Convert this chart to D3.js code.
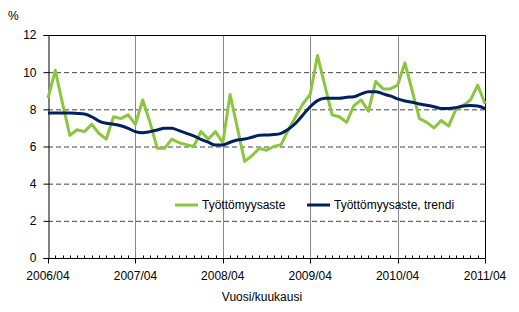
<!DOCTYPE html>
<html><head><meta charset="utf-8">
<script src="https://cdn.jsdelivr.net/npm/d3@7"></script>
<style>body{margin:0;background:#fff}svg{display:block;font-family:"Liberation Sans",Arial,sans-serif}</style>
</head><body>
<svg id="c" width="519" height="312"></svg>
<script>
const xTickLabels = ["2006/04","2007/04","2008/04","2009/04","2010/04","2011/04"];
const yTicks = [0,2,4,6,8,10,12];
const seriesNames = ["Työttömyysaste","Työttömyysaste, trendi"];
const rate = [8.6,10.1,8.3,6.6,6.9,6.8,7.2,6.7,6.4,7.6,7.5,7.7,7.2,8.5,7.3,5.9,5.9,6.4,6.2,6.1,6.0,
  6.8,6.4,6.8,6.2,8.8,7.0,5.2,5.5,5.9,5.8,6.0,6.1,6.9,7.6,8.3,8.8,10.9,9.3,7.7,7.6,7.3,
  8.2,8.5,7.9,9.5,9.1,9.1,9.3,10.5,9.0,7.5,7.3,7.0,7.4,7.1,8.0,8.2,8.5,9.3,8.3];
const trend = [7.8,7.8,7.8,7.8,7.78,7.75,7.6,7.37,7.25,7.2,7.12,6.98,6.8,6.74,6.8,6.89,6.98,6.98,6.85,6.71,6.57,
  6.39,6.23,6.08,6.08,6.23,6.35,6.4,6.5,6.6,6.62,6.64,6.71,6.93,7.25,7.7,8.14,8.47,8.6,8.6,8.6,8.65,
  8.68,8.83,8.95,8.95,8.83,8.72,8.56,8.45,8.38,8.29,8.22,8.14,8.04,8.04,8.09,8.18,8.2,8.18,8.04];

const svg = d3.select("#c");
const L=48, R=485, T=35, B=258;
const FS = 12;
const x = d3.scaleLinear().domain([0, rate.length-1]).range([L, R]);
const y = d3.scaleLinear().domain([0, 12]).range([B, T]);

// horizontal dashed gridlines
svg.append("g").selectAll("line").data(yTicks.filter(v => v>0 && v<12)).join("line")
  .attr("x1", L).attr("x2", R).attr("y1", d=>y(d)+0.5).attr("y2", d=>y(d)+0.5)
  .attr("stroke", "#444").attr("stroke-width", 1).attr("stroke-dasharray", "5,3");
// vertical year lines
svg.append("g").selectAll("line").data([12,24,36,48]).join("line")
  .attr("x1", d=>Math.round(x(d))+0.5).attr("x2", d=>Math.round(x(d))+0.5)
  .attr("y1", T).attr("y2", B).attr("stroke", "#888").attr("stroke-width", 1);
// top & right border
svg.append("line").attr("x1", L).attr("x2", R+0.5).attr("y1", T+0.5).attr("y2", T+0.5).attr("stroke","#000");
svg.append("line").attr("x1", R+0.5).attr("x2", R+0.5).attr("y1", T).attr("y2", B).attr("stroke","#000");

// y axis
const yAxis = d3.axisLeft(y).tickValues(yTicks).tickSize(5).tickPadding(7);
const gy = svg.append("g").attr("transform", `translate(${L+0.5},0)`).call(yAxis);
gy.select(".domain").attr("stroke", "#000");
gy.selectAll(".tick line").attr("stroke","#000");
gy.selectAll("text").attr("font-size", FS).attr("fill","#000").attr("font-family","Liberation Sans, Arial, sans-serif");

// x axis: minor monthly ticks upward, major yearly ticks downward
const gx = svg.append("g").attr("transform", `translate(0,${B+0.5})`);
gx.append("line").attr("x1", L).attr("x2", R+0.5).attr("stroke","#000");
gx.selectAll("line.minor").data(d3.range(0, rate.length)).join("line").attr("class","minor")
  .attr("x1", d=>Math.round(x(d))+0.5).attr("x2", d=>Math.round(x(d))+0.5)
  .attr("y1", 0).attr("y2", d => d%12===0 ? 5 : -3).attr("stroke","#000");
gx.selectAll("text").data(xTickLabels).join("text")
  .attr("x", (d,i)=>x(i*12)).attr("y", 21).attr("text-anchor","middle")
  .attr("font-size", FS).attr("fill","#000").text(d=>d);

// axis titles
svg.append("text").attr("x", 8).attr("y", 20).attr("font-size", FS).text("%");
svg.append("text").attr("x", 262).attr("y", 301).attr("text-anchor","middle").attr("font-size", FS).text("Vuosi/kuukausi");

const line = d3.line().x((d,i)=>x(i)).y(d=>y(d));
const colors = ["#8cc63f", "#002060"];
svg.append("path").datum(rate).attr("d", line).attr("fill","none")
  .attr("stroke", colors[0]).attr("stroke-width", 3).attr("stroke-linejoin","round");
svg.append("path").datum(trend).attr("d", line.curve(d3.curveMonotoneX)).attr("fill","none")
  .attr("stroke", colors[1]).attr("stroke-width", 3).attr("stroke-linejoin","round");

// legend
const lg = svg.append("g");
const legendPos = [175, 307];
seriesNames.forEach((n,i)=>{
  lg.append("line").attr("x1", legendPos[i]).attr("x2", legendPos[i]+23).attr("y1", 205).attr("y2", 205)
    .attr("stroke", colors[i]).attr("stroke-width", 3);
  lg.append("text").attr("x", legendPos[i]+27).attr("y", 209).attr("font-size", FS).text(n);
});
</script>
</body></html>
